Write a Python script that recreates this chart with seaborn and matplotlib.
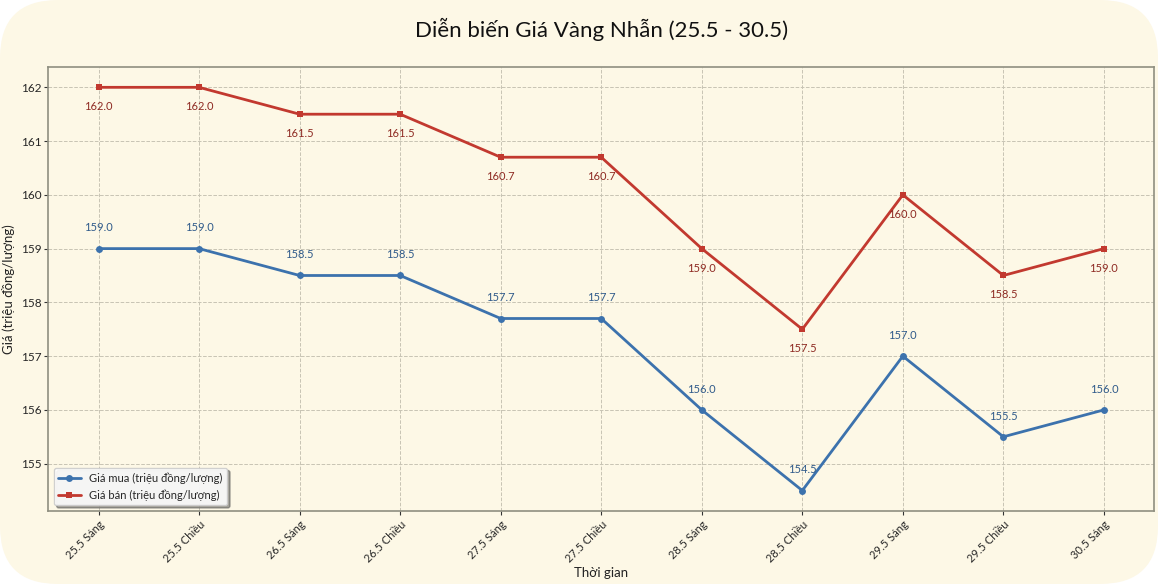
import seaborn as sns
import matplotlib.pyplot as plt
import pandas as pd
from matplotlib.patches import FancyBboxPatch

# data
thoi_gian = ["25.5 Sáng", "25.5 Chiều", "26.5 Sáng", "26.5 Chiều", "27.5 Sáng",
             "27.5 Chiều", "28.5 Sáng", "28.5 Chiều", "29.5 Sáng", "29.5 Chiều",
             "30.5 Sáng"]
gia_mua = [159.0, 159.0, 158.5, 158.5, 157.7, 157.7, 156.0, 154.5, 157.0, 155.5, 156.0]
gia_ban = [162.0, 162.0, 161.5, 161.5, 160.7, 160.7, 159.0, 157.5, 160.0, 158.5, 159.0]

sns.set_theme(style="whitegrid")
plt.rcParams['font.family'] = ['Lato', 'DejaVu Sans']

bg = "#fdf8e6"
blue = "#3c72ad"
red = "#c2392f"

fig = plt.figure(figsize=(11.58, 5.84), dpi=100, facecolor="white")
# rounded cream card behind everything
card = FancyBboxPatch((0.0, 0.0), 1.0, 1.0, boxstyle="round,pad=0,rounding_size=0.05",
                      transform=fig.transFigure, facecolor=bg, edgecolor="none",
                      mutation_aspect=1158 / 584, zorder=-10)
fig.patches.append(card)

ax = fig.add_axes([0.0417, 0.1255, 0.955, 0.7595])
ax.set_facecolor(bg)

df = pd.DataFrame({"Thời gian": thoi_gian, "mua": gia_mua, "ban": gia_ban})

sns.lineplot(data=df, x="Thời gian", y="mua", ax=ax, color=blue, marker="o",
             markersize=5, linewidth=2, markeredgewidth=0, sort=False,
             label="Giá mua (triệu đồng/lượng)")
sns.lineplot(data=df, x="Thời gian", y="ban", ax=ax, color=red, marker="s",
             markersize=5, linewidth=2, markeredgewidth=0, sort=False,
             label="Giá bán (triệu đồng/lượng)")

for i, (m, b) in enumerate(zip(gia_mua, gia_ban)):
    ax.annotate(f"{m:.1f}", (i, m), xytext=(0, 11), textcoords="offset points",
                ha="center", va="bottom", fontsize=8, color="#2f5a8a")
    ax.annotate(f"{b:.1f}", (i, b), xytext=(0, -10), textcoords="offset points",
                ha="center", va="top", fontsize=8, color="#8e2a22")

ax.set_title("Diễn biến Giá Vàng Nhẫn (25.5 - 30.5)", fontsize=16, pad=22, color="#111111")
ax.set_xlabel("Thời gian", fontsize=9.5, color="#222222", labelpad=2)
ax.set_ylabel("Giá (triệu đồng/lượng)", fontsize=9.5, color="#222222", labelpad=4)

ax.set_xlim(-0.5, len(thoi_gian) - 0.5)
ax.set_ylim(154.125, 162.375)
ax.set_xticks(range(len(thoi_gian)))
ax.set_xticklabels(thoi_gian, rotation=45, ha="right", rotation_mode="anchor", fontsize=8)
ax.tick_params(axis="y", labelsize=8.5, pad=2)
ax.tick_params(axis="x", pad=3)
ax.tick_params(axis="both", length=3, width=0.8, color="#333333", bottom=True, left=True)

ax.grid(True, linestyle="--", linewidth=0.7, color="#c8c4b4")
for s in ax.spines.values():
    s.set_color("#8f8f80")
    s.set_linewidth(1.2)

leg = ax.legend(loc="lower left", fontsize=8, frameon=True, shadow=True, fancybox=True,
                facecolor="white", framealpha=0.9, edgecolor="#cccccc")

fig.savefig("out.png", dpi=100, facecolor=fig.get_facecolor())
